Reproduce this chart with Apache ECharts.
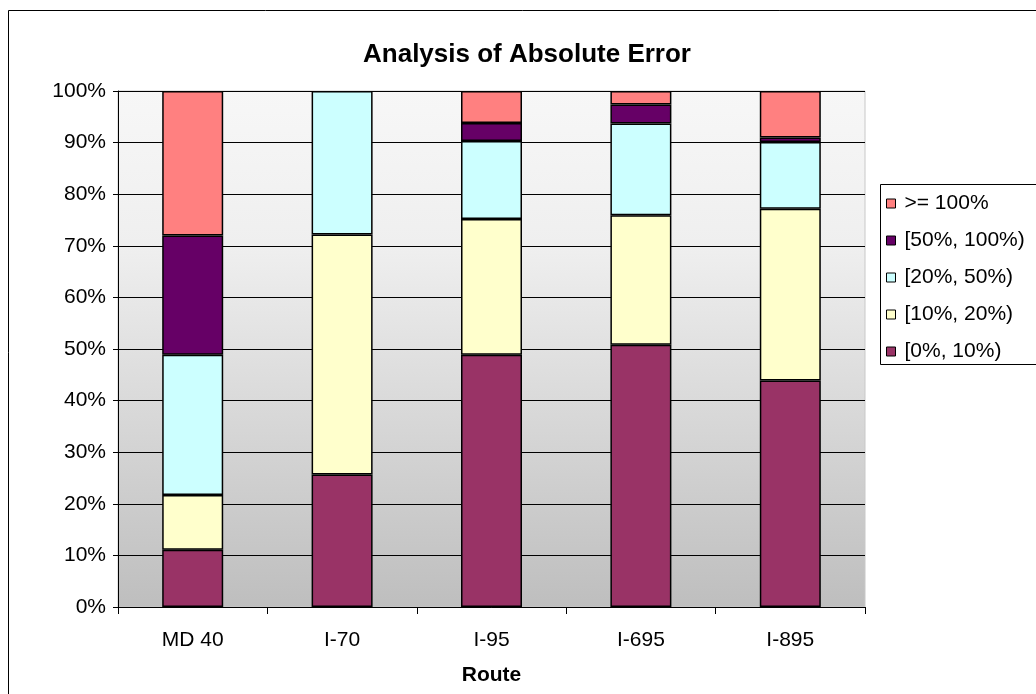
<!DOCTYPE html>
<html>
<head>
<meta charset="utf-8">
<script src="https://cdn.jsdelivr.net/npm/echarts@6/dist/echarts.min.js"></script>
<style>
html,body{margin:0;padding:0;background:#fff;}
#chart{width:1036px;height:694px;}
</style>
</head>
<body>
<div id="chart"></div>
<script>
const categories = ['MD 40', 'I-70', 'I-95', 'I-695', 'I-895'];
const seriesNames = ['[0%, 10%)', '[10%, 20%)', '[20%, 50%)', '[50%, 100%)', '>= 100%'];
const err0to10   = [11.1, 25.7, 48.9, 50.8, 43.9];
const err10to20  = [10.6, 46.5, 26.3, 25.1, 33.3];
const err20to50  = [27.2, 27.8, 15.1, 17.8, 12.9];
const err50to100 = [23.1, 0,    3.5,  3.7,  0.9];
const err100plus = [28.0, 0,    6.2,  2.6,  9.0];
const seriesColors = ['#993366', '#FFFFCC', '#CCFFFF', '#660066', '#FF8080'];
const titleText = 'Analysis of Absolute Error';
const xAxisName = 'Route';

const valuesList = [err0to10, err10to20, err20to50, err50to100, err100plus];
const font = 'Liberation Sans, Arial, sans-serif';

const chart = echarts.init(document.getElementById('chart'), null, {renderer: 'canvas'});
const option = {
  backgroundColor: '#fff',
  animation: false,
  title: {
    text: titleText,
    left: 522, top: 37, textAlign: 'center',
    textStyle: {fontFamily: font, fontSize: 26, fontWeight: 'bold', color: '#000'}
  },
  graphic: [
    {type: 'rect', shape: {x: 8.5, y: 10.5, width: 1200, height: 900},
     style: {fill: 'none', stroke: '#000', lineWidth: 1}, z: -10, silent: true},
    {type: 'rect', shape: {x: 880.5, y: 184.5, width: 300, height: 180},
     style: {fill: '#fff', stroke: '#000', lineWidth: 1}, z: 0, silent: true}
  ],
  legend: {
    orient: 'vertical',
    left: 886, top: 192,
    padding: 0,
    itemWidth: 9, itemHeight: 9,
    itemGap: 14,
    icon: 'rect',
    data: seriesNames.slice().reverse(),
    itemStyle: {borderColor: '#000', borderWidth: 1},
    textStyle: {fontFamily: font, fontSize: 21, color: '#000', lineHeight: 23, padding: [0, 0, 0, 4]},
    z: 5
  },
  grid: {
    left: 118, right: 171, top: 91, bottom: 87,
    show: true,
    borderColor: '#c8c8c8', borderWidth: 1,
    backgroundColor: {
      type: 'linear', x: 0, y: 0, x2: 0, y2: 1,
      colorStops: [
        {offset: 0, color: '#f7f7f7'},
        {offset: 0.3, color: '#efefef'},
        {offset: 1, color: '#bebebe'}
      ]
    }
  },
  xAxis: {
    type: 'category',
    data: categories,
    name: xAxisName,
    nameLocation: 'middle',
    nameGap: 58,
    nameTextStyle: {fontFamily: font, fontSize: 21, fontWeight: 'bold', color: '#000'},
    axisLine: {lineStyle: {color: '#000', width: 1}},
    axisTick: {show: true, alignWithLabel: false, length: 7, lineStyle: {color: '#000'}},
    axisLabel: {fontFamily: font, fontSize: 21, color: '#000', margin: 23},
    splitLine: {show: false}
  },
  yAxis: {
    type: 'value',
    min: 0, max: 100, interval: 10,
    axisLine: {show: true, lineStyle: {color: '#000', width: 1}},
    axisTick: {show: true, length: 5, lineStyle: {color: '#000'}},
    axisLabel: {fontFamily: font, fontSize: 21, color: '#000', margin: 12, formatter: '{value}%'},
    splitLine: {show: true, lineStyle: {color: '#000', width: 1}}
  },
  series: seriesNames.map((name, i) => ({
    name: name,
    type: 'bar',
    stack: 'total',
    barWidth: 61,
    data: valuesList[i].map(v => (v === 0 ? '-' : v)),
    itemStyle: {color: seriesColors[i], borderColor: '#000', borderWidth: 1.5},
    emphasis: {disabled: true}
  }))
};
chart.setOption(option);
</script>
</body>
</html>
